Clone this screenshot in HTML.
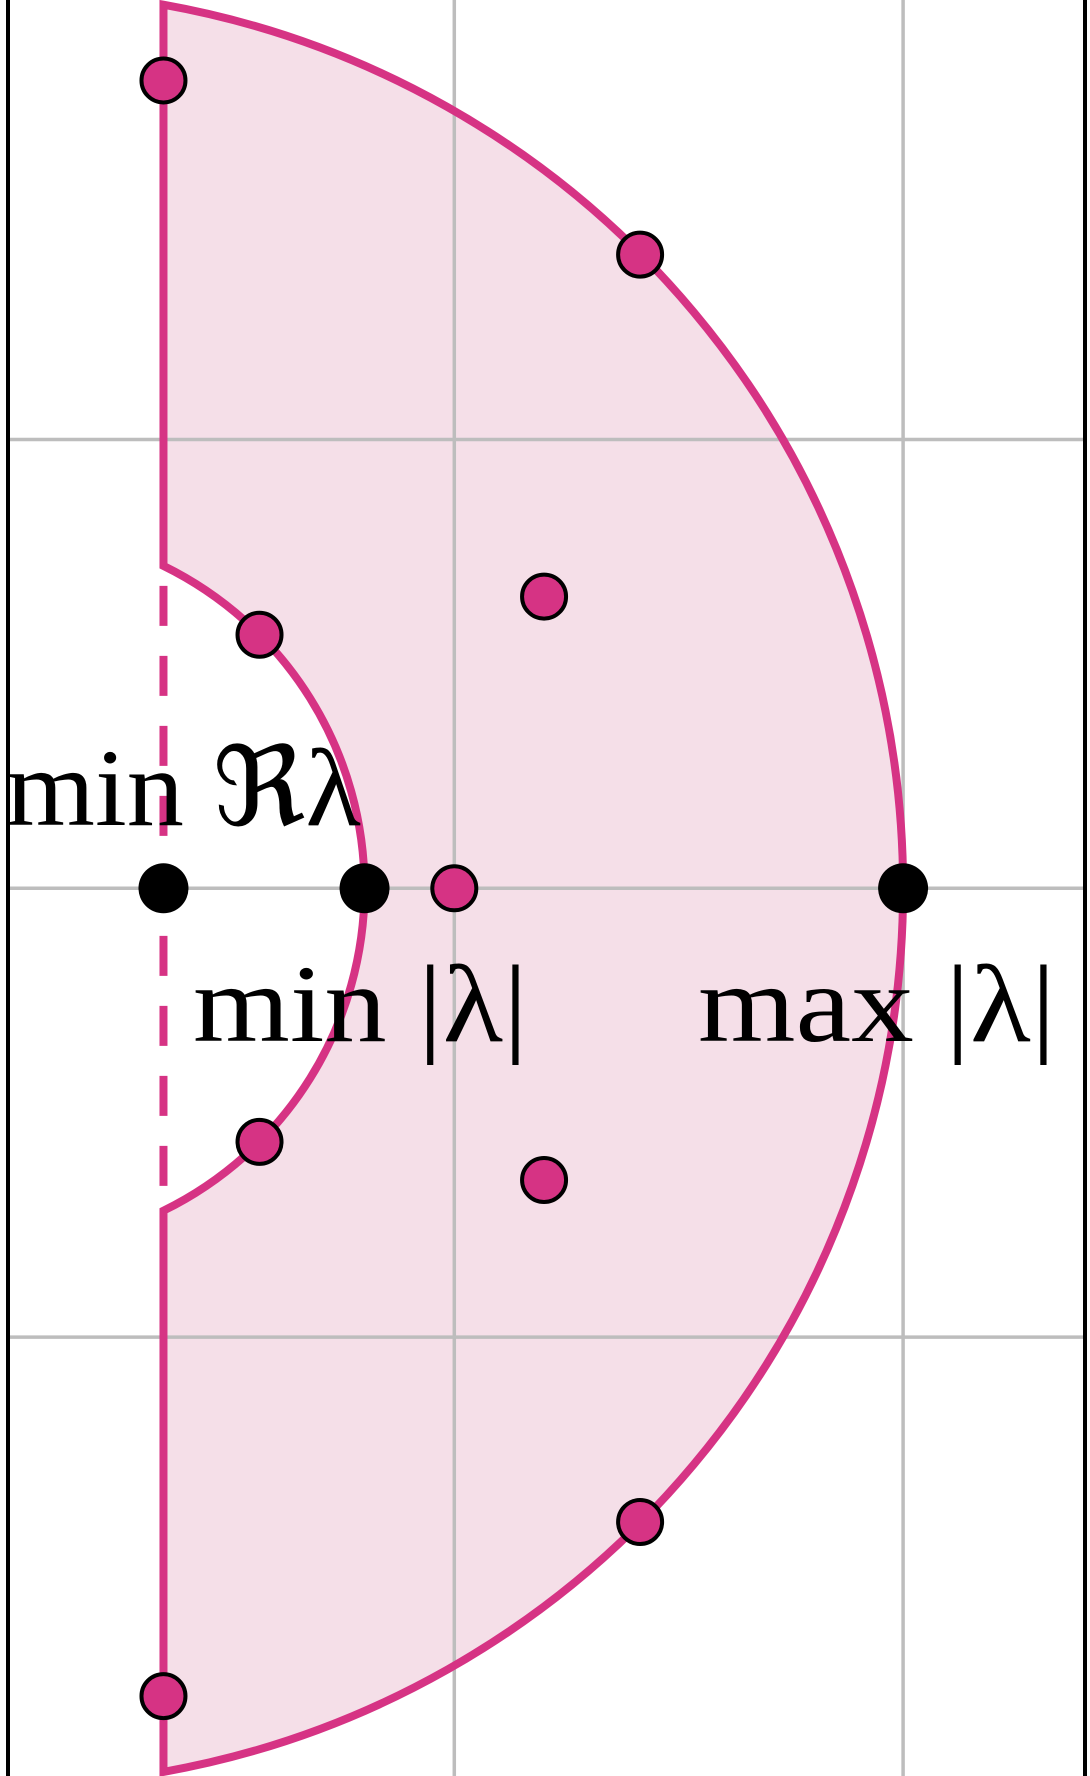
<!DOCTYPE html>
<html><head><meta charset="utf-8"><style>
html,body{margin:0;padding:0;background:#fff;}
svg{display:block;}
text{font-family:"Liberation Serif","DejaVu Serif",serif;fill:#000;}
</style></head><body>
<svg id="chart" width="1090" height="1776" viewBox="0 0 1090 1776" xmlns="http://www.w3.org/2000/svg"></svg>
<script>
const gridX = [1, 2];
const gridY = [-1, 0, 1];
const minRe = 0.352;
const minAbs = 0.8;
const maxAbs = 2.0;
const eigX = [0.352, 1.414, 1.2, 0.566, 1.0, 0.566, 1.2, 1.414, 0.352];
const eigY = [1.80, 1.412, 0.65, 0.565, 0, -0.565, -0.65, -1.412, -1.80];
const boundX = [minRe, minAbs, maxAbs];
const boundY = [0, 0, 0];
const labels = ["min ℜλ", "min |λ|", "max |λ|"];

const U = 448.8, X0 = 5.5, Y0 = 888.3;
const sx = v => X0 + v * U;
const sy = v => Y0 - v * U;
const NS = "http://www.w3.org/2000/svg";
const svg = document.getElementById('chart');
function mk(tag, attrs, parent) {
  const e = document.createElementNS(NS, tag);
  for (const k in attrs) e.setAttribute(k, attrs[k]);
  (parent || svg).appendChild(e);
  return e;
}
const PINK = "#d63384";

const yo = Math.sqrt(maxAbs * maxAbs - minRe * minRe);
const yi = Math.sqrt(minAbs * minAbs - minRe * minRe);
const R = maxAbs * U, r = minAbs * U;
const d = `M ${sx(minRe)} ${sy(yo)} A ${R} ${R} 0 0 1 ${sx(minRe)} ${sy(-yo)} L ${sx(minRe)} ${sy(-yi)} A ${r} ${r} 0 0 0 ${sx(minRe)} ${sy(yi)} Z`;
const region = mk('path', {d: d, fill: "#f5dfe8", stroke: "none"});



gridX.forEach(v => {
  const l = mk('line', {x1: sx(v), x2: sx(v), y1: 0, y2: 1776, stroke: "#bdbdbd", "stroke-width": 3.5});
  
  
});
gridY.forEach(v => {
  const l = mk('line', {x1: 8, x2: 1085, y1: sy(v), y2: sy(v), stroke: "#bdbdbd", "stroke-width": 3.5});
  
  
});

const outline = mk('path', {d: d, fill: "none", stroke: PINK, "stroke-width": 8, "stroke-linejoin": "miter"});


const dash = mk('line', {x1: sx(minRe), x2: sx(minRe), y1: sy(yi), y2: sy(-yi), stroke: PINK, "stroke-width": 8, "stroke-dasharray": "40 30", "stroke-dashoffset": "-20"});



[8, 1085].forEach(x => {
  const b = mk('line', {x1: x, x2: x, y1: 0, y2: 1776, stroke: "#000", "stroke-width": 4});
  
  
});

const lab = [[6, 825, 355], [193, 1041, 335], [698, 1041, 358]];
labels.forEach((t, i) => {
  const e = mk('text', {x: lab[i][0], y: lab[i][1], "font-size": 110, textLength: lab[i][2], lengthAdjust: "spacingAndGlyphs"});
  e.textContent = t;
  
  
});

boundX.forEach((v, i) => {
  const c = mk('circle', {cx: sx(v), cy: sy(boundY[i]), r: 25, fill: "#000"});
  
  
});

eigX.forEach((v, i) => {
  const c = mk('circle', {cx: sx(v), cy: sy(eigY[i]), r: 22, fill: PINK, stroke: "#000", "stroke-width": 4});
  
  
});
</script>
</body></html>
